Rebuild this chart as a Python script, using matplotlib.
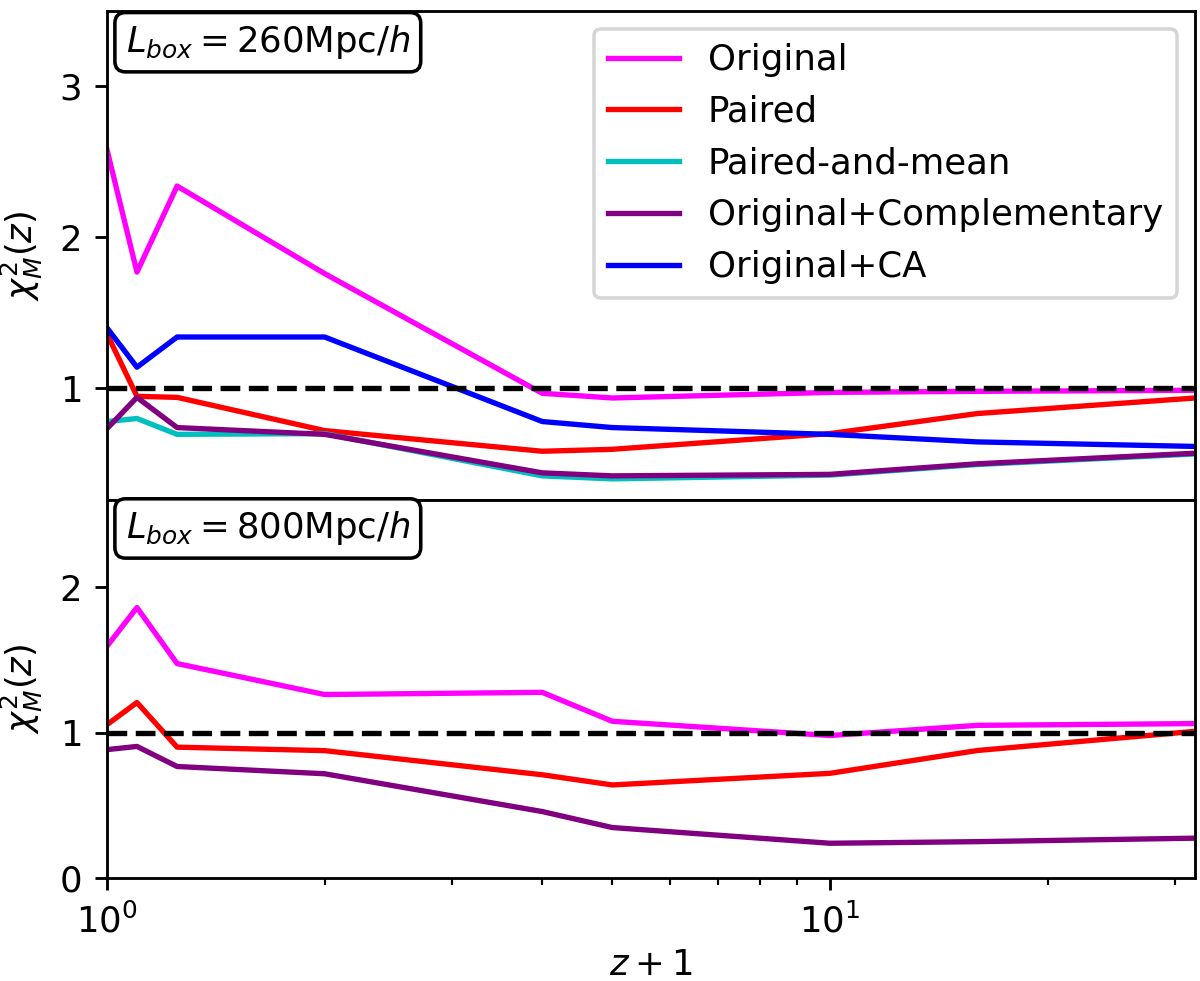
import matplotlib
matplotlib.use('Agg')
import matplotlib.pyplot as plt

# z+1 values
zp1 = [1, 1.1, 1.25, 2, 4, 5, 10, 16, 32]

# L_box = 260 Mpc/h
orig_260 = [2.58, 1.77, 2.34, 1.76, 0.967, 0.936, 0.973, 0.98, 0.987]
paired_260 = [1.36, 0.947, 0.94, 0.72, 0.583, 0.596, 0.70, 0.833, 0.936]
pmean_260 = [0.78, 0.80, 0.695, 0.70, 0.42, 0.40, 0.425, 0.495, 0.565]
ocomp_260 = [0.733, 0.94, 0.74, 0.695, 0.44, 0.42, 0.43, 0.50, 0.57]
oca_260 = [1.40, 1.14, 1.34, 1.34, 0.78, 0.74, 0.695, 0.645, 0.615]

# L_box = 800 Mpc/h
orig_800 = [1.595, 1.86, 1.475, 1.262, 1.277, 1.078, 0.98, 1.05, 1.062]
paired_800 = [1.055, 1.207, 0.90, 0.876, 0.71, 0.64, 0.72, 0.877, 1.009]
ocomp_800 = [0.883, 0.905, 0.767, 0.717, 0.457, 0.347, 0.239, 0.25, 0.274]

dpi = 256
fig = plt.figure(figsize=(1200 / dpi, 981 / dpi), dpi=dpi)
ax1 = fig.add_axes([0.0892, 0.4903, 0.9067, 0.4985])
ax2 = fig.add_axes([0.0892, 0.105, 0.9067, 0.3853], sharex=ax1)

ax1.plot(zp1, orig_260, color='magenta', label='Original')
ax1.plot(zp1, paired_260, color='red', label='Paired')
ax1.plot(zp1, pmean_260, color='c', label='Paired-and-mean')
ax1.plot(zp1, ocomp_260, color='purple', label='Original+Complementary')
ax1.plot(zp1, oca_260, color='blue', label='Original+CA')
ax1.axhline(1, color='k', ls='--')
ax1.set_xscale('log')
ax1.set_xlim(1, 32)
ax1.set_ylim(0.26, 3.5)
ax1.set_yticks([1, 2, 3])
ax1.set_ylabel(r'$\chi^2_M(z)$')
ax1.tick_params(axis='x', which='both', bottom=False, labelbottom=False)
ax1.legend(loc='upper right')
ax1.text(0.017, 0.975, r'$L_{box}=260{\rm Mpc}/h$', transform=ax1.transAxes,
         ha='left', va='top',
         bbox=dict(boxstyle='round', fc='white', ec='black'))

ax2.plot(zp1, orig_800, color='magenta')
ax2.plot(zp1, paired_800, color='red')
ax2.plot(zp1, ocomp_800, color='purple')
ax2.axhline(1, color='k', ls='--')
ax2.set_ylim(0, 2.6)
ax2.set_yticks([0, 1, 2])
ax2.set_ylabel(r'$\chi^2_M(z)$')
ax2.set_xlabel(r'$z+1$', labelpad=2.5)
ax2.text(0.017, 0.975, r'$L_{box}=800{\rm Mpc}/h$', transform=ax2.transAxes,
         ha='left', va='top',
         bbox=dict(boxstyle='round', fc='white', ec='black'))

fig.savefig('out.png', dpi=dpi)
